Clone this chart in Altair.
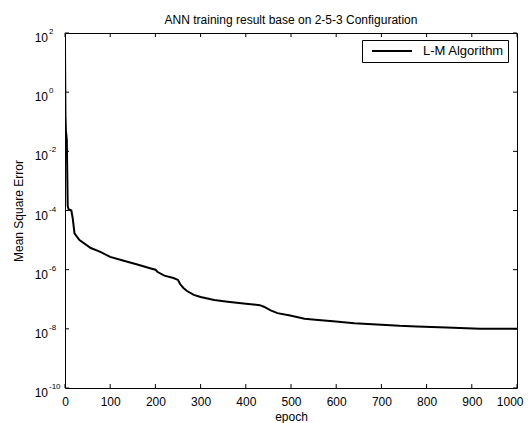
import altair as alt
import pandas as pd

# ---- data ----
epochs = [0, 1, 2, 4, 6, 8, 14, 17, 21, 32,
          57, 77, 100, 130, 160, 190, 200, 205, 220, 240,
          250, 255, 262, 270, 285, 300, 330, 360, 400, 431,
          440, 455, 470, 498, 530, 560, 593, 640, 690, 740,
          778, 844, 918, 1000]
mse = [30, 1.6e-1, 5e-2, 2.5e-2, 1.4e-4, 1.1e-4, 1.0e-4, 5.6e-5, 1.7e-5, 1.0e-5,
       5.4e-6, 4.1e-6, 2.7e-6, 2.0e-6, 1.5e-6, 1.1e-6, 1.0e-6, 8.3e-7, 6.3e-7, 5.2e-7,
       4.5e-7, 3.2e-7, 2.4e-7, 1.9e-7, 1.4e-7, 1.2e-7, 9.5e-8, 8.3e-8, 7.1e-8, 6.3e-8,
       5.6e-8, 4.2e-8, 3.4e-8, 2.8e-8, 2.2e-8, 2.0e-8, 1.8e-8, 1.55e-8, 1.4e-8, 1.26e-8,
       1.2e-8, 1.12e-8, 1.0e-8, 1.0e-8]
x_ticks = [0, 100, 200, 300, 400, 500, 600, 700, 800, 900, 1000]
y_exponents = [2, 0, -2, -4, -6, -8, -10]
series_name = "L-M Algorithm"
chart_title = "ANN training result base on 2-5-3 Configuration"
x_title = "epoch"
y_title = "Mean Square Error"

X_MIN, X_MAX = 0, 1000
Y_MIN, Y_MAX = 1e-10, 1e2

curve = pd.DataFrame({"epoch": epochs, "mse": mse, "series": series_name})
xt = pd.DataFrame({"epoch": x_ticks})
yt = pd.DataFrame({"mse": [10.0 ** e for e in y_exponents],
                   "exp": [str(e) for e in y_exponents]})

W, H = 452, 355
FONT = "Liberation Sans"
TICK_PX = 4
TICK_COLOR = "black"
# tick length expressed in data units of each scale
tick_dx = TICK_PX * (X_MAX - X_MIN) / W
tick_fy = 10 ** (TICK_PX * 12.0 / H)

xs = alt.Scale(domain=[X_MIN, X_MAX], nice=False, zero=False)
ys = alt.Scale(type="log", domain=[Y_MIN, Y_MAX], nice=False)

last_label = f"datum.value == {X_MAX}"
x_axis = alt.Axis(values=x_ticks, title=x_title, ticks=False, domain=False,
                  grid=False, labelPadding=8, labelFontSize=12, labelFlush=False,
                  labelAlign=alt.condition(last_label, alt.value("right"),
                                           alt.value("center")),
                  labelOffset=alt.condition(last_label, alt.value(6), alt.value(0)),
                  labelFont=FONT, labelColor="black", titleFont=FONT,
                  titleFontSize=12, titleFontWeight="normal",
                  titleColor="black", titlePadding=4, format="d")
y_axis = alt.Axis(labels=False, ticks=False, domain=False, grid=False,
                  title=y_title, titleX=-47, titleY=H / 2, titleAngle=270,
                  titleAlign="center", titleBaseline="middle",
                  titleFont=FONT, titleFontSize=12,
                  titleFontWeight="normal", titleColor="black")

X = alt.X("epoch:Q", scale=xs, axis=x_axis)
Y = alt.Y("mse:Q", scale=ys, axis=y_axis)

line = alt.Chart(curve).mark_line(strokeWidth=2, clip=True, color="black").encode(
    x=X, y=Y,
    color=alt.Color("series:N", scale=alt.Scale(range=["black"]),
                    legend=alt.Legend(title=None, orient="none", legendX=297,
                                      legendY=7, strokeColor="black",
                                      fillColor="white", padding=4,
                                      clipHeight=14,
                                      symbolType="stroke", symbolSize=1600,
                                      symbolOffset=5,
                                      symbolStrokeWidth=2, labelFont=FONT,
                                      labelFontSize=13, labelColor="black",
                                      labelOffset=10, cornerRadius=0)),
)

# inward tick marks on all four sides
tick_bottom = alt.Chart(xt).mark_rule(color=TICK_COLOR, strokeWidth=1).encode(
    x=X, x2="epoch", y=alt.datum(Y_MIN), y2=alt.datum(Y_MIN * tick_fy))
tick_top = alt.Chart(xt).mark_rule(color=TICK_COLOR, strokeWidth=1).encode(
    x=X, x2="epoch", y=alt.datum(Y_MAX), y2=alt.datum(Y_MAX / tick_fy))
tick_left = alt.Chart(yt).mark_rule(color=TICK_COLOR, strokeWidth=1).encode(
    y=Y, y2="mse", x=alt.datum(X_MIN), x2=alt.datum(X_MIN + tick_dx))
tick_right = alt.Chart(yt).mark_rule(color=TICK_COLOR, strokeWidth=1).encode(
    y=Y, y2="mse", x=alt.datum(X_MAX), x2=alt.datum(X_MAX - tick_dx))

lab_base = alt.Chart(yt).mark_text(align="right", baseline="alphabetic", dy=9,
                                   fontSize=12, font=FONT, color="black").encode(
    y=Y, x=alt.value(-17), text=alt.value("10"))
lab_exp = alt.Chart(yt).mark_text(align="left", baseline="alphabetic", dy=1,
                                  fontSize=8, font=FONT, color="black").encode(
    y=Y, x=alt.value(-16), text="exp:N")

chart = alt.layer(line, tick_bottom, tick_top, tick_left, tick_right,
                  lab_base, lab_exp).properties(
    width=W, height=H,
    title=alt.TitleParams(chart_title, font=FONT, fontSize=12,
                          fontWeight="normal", color="black", anchor="middle",
                          baseline="alphabetic", offset=2, dy=10),
    autosize=alt.AutoSizeParams(type="none"),
    padding={"left": 57, "top": 25, "right": 7, "bottom": 35},
).configure(background="white").configure_view(stroke="black", strokeWidth=1)

chart.save("out.html", embed_options={"renderer": "svg", "actions": False})
